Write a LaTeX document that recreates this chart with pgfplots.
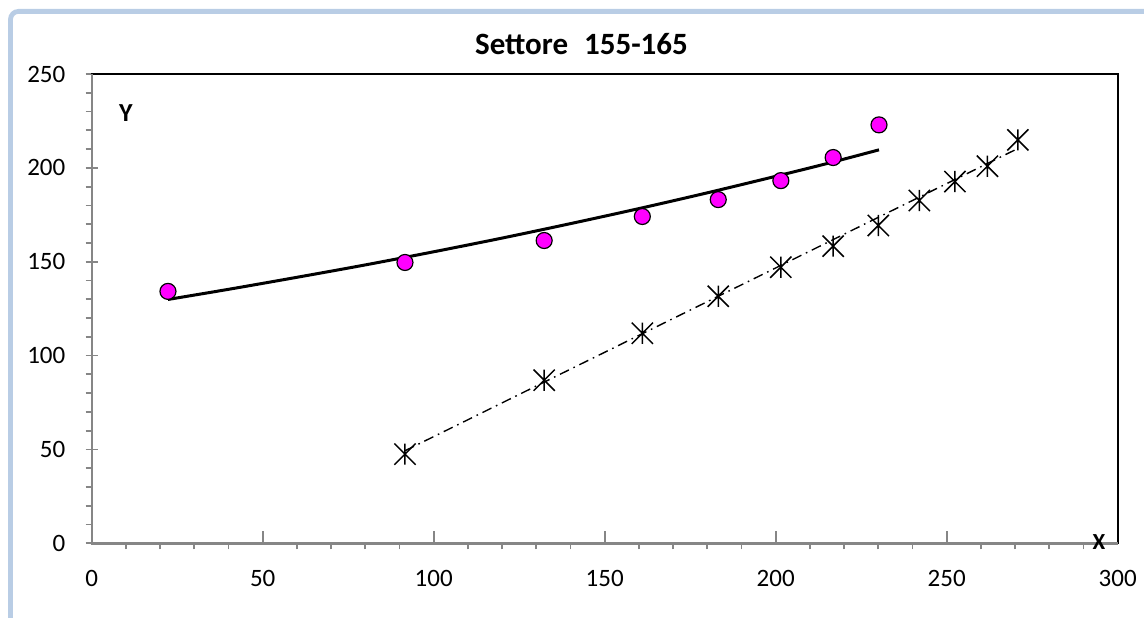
\documentclass[border=0pt]{standalone}
\usepackage{pgfplots}
\pgfplotsset{compat=1.18}
\usepackage{fontspec}
\setmainfont{Carlito}
\definecolor{framecol}{HTML}{B9CDE5}
\definecolor{axgray}{HTML}{868686}
\definecolor{mag}{HTML}{FF00FF}
\pgfdeclareplotmark{xstar}{%
  \pgfpathmoveto{\pgfqpoint{-\pgfplotmarksize}{-\pgfplotmarksize}}%
  \pgfpathlineto{\pgfqpoint{\pgfplotmarksize}{\pgfplotmarksize}}%
  \pgfpathmoveto{\pgfqpoint{-\pgfplotmarksize}{\pgfplotmarksize}}%
  \pgfpathlineto{\pgfqpoint{\pgfplotmarksize}{-\pgfplotmarksize}}%
  \pgfpathmoveto{\pgfqpoint{0pt}{-\pgfplotmarksize}}%
  \pgfpathlineto{\pgfqpoint{0pt}{\pgfplotmarksize}}%
  \pgfusepathqstroke}
\begin{document}
\begin{tikzpicture}
\useasboundingbox (0,0) rectangle (572pt,308.5pt);
\draw[framecol, line width=2.4pt, rounded corners=4pt] (5.25pt,-30pt) rectangle (620pt,302.8pt);
\begin{axis}[
  at={(45.85pt,36.85pt)}, anchor=south west,
  scale only axis, width=513pt, height=234.65pt,
  xmin=0, xmax=300, ymin=0, ymax=250,
  xtick={0,50,...,300}, ytick={0,50,...,250},
  minor x tick num=4, minor y tick num=4,
  tick pos=left,
  tick align=center,
  major tick length=6pt, minor tick length=3pt,
  tick style={axgray, line width=0.9pt},
  major x tick style={yshift=3pt},
  minor x tick style={yshift=-1.5pt},
  minor y tick style={xshift=-1.5pt},
  axis line style={black, line width=1pt},
  clip=false,
  /pgf/number format/assume math mode=true,
  tick label style={font=\fontsize{12.5}{14}\selectfont, inner sep=0pt},
  xticklabel style={anchor=base, yshift=-18.5pt},
  yticklabel style={anchor=east, xshift=-10pt},
  title={Settore\ \ \kern1pt 155-165},
  title style={font=\bfseries\fontsize{15.5}{17}\selectfont, at={(rel axis cs:0.4774,1)}, anchor=base, yshift=4pt, inner sep=0pt},
  xlabel={X},
  xlabel style={font=\bfseries\fontsize{11.5}{13}\selectfont, at={(rel axis cs:0.9818,0.003)}, anchor=center, inner sep=0pt},
  ylabel={Y},
  ylabel style={font=\bfseries\fontsize{13}{15}\selectfont, rotate=-90, at={(rel axis cs:0.0334,0.917)}, anchor=center, inner sep=0pt},
]
% measured points (magenta circles)
\addplot[only marks, mark=*, mark size=4pt, mark options={fill=mag, draw=black, line width=0.6pt}]
  coordinates {(22.3,134.2)(91.6,149.6)(132.3,161.3)(161,174.1)(183.2,183.1)(201.5,193.2)(216.8,205.5)(230.2,222.9)};
% trend curve through the circles
\addplot[black, line width=1.5pt, smooth, no marks]
  coordinates {(22.3,129.9)(40,135.3)(60,141.7)(80,148.3)(100,155.3)(120,162.6)(140,170.3)(160,178.3)(180,186.7)(200,195.5)(215,202.3)(230.2,209.6)};
% asterisk series
\addplot[only marks, mark=xstar, mark size=5.3pt, mark options={black, line width=0.75pt}]
  coordinates {(91.6,47.5)(132.3,86.9)(161,111.9)(183.2,131.6)(201.5,147.1)(216.8,158.3)(230,169.3)(242,182.6)(252.4,192.7)(261.9,200.9)(270.8,214.9)};
% linear trend line (dash-dot)
\addplot[black, line width=0.7pt, dash pattern=on 5pt off 2.5pt on 0.8pt off 2.5pt, no marks]
  coordinates {(91.6,49.3)(270.8,210.3)};
\draw[axgray, line width=1.2pt] (rel axis cs:0,1) -- (rel axis cs:0,0) -- (rel axis cs:1,0);
\end{axis}
\end{tikzpicture}
\end{document}
